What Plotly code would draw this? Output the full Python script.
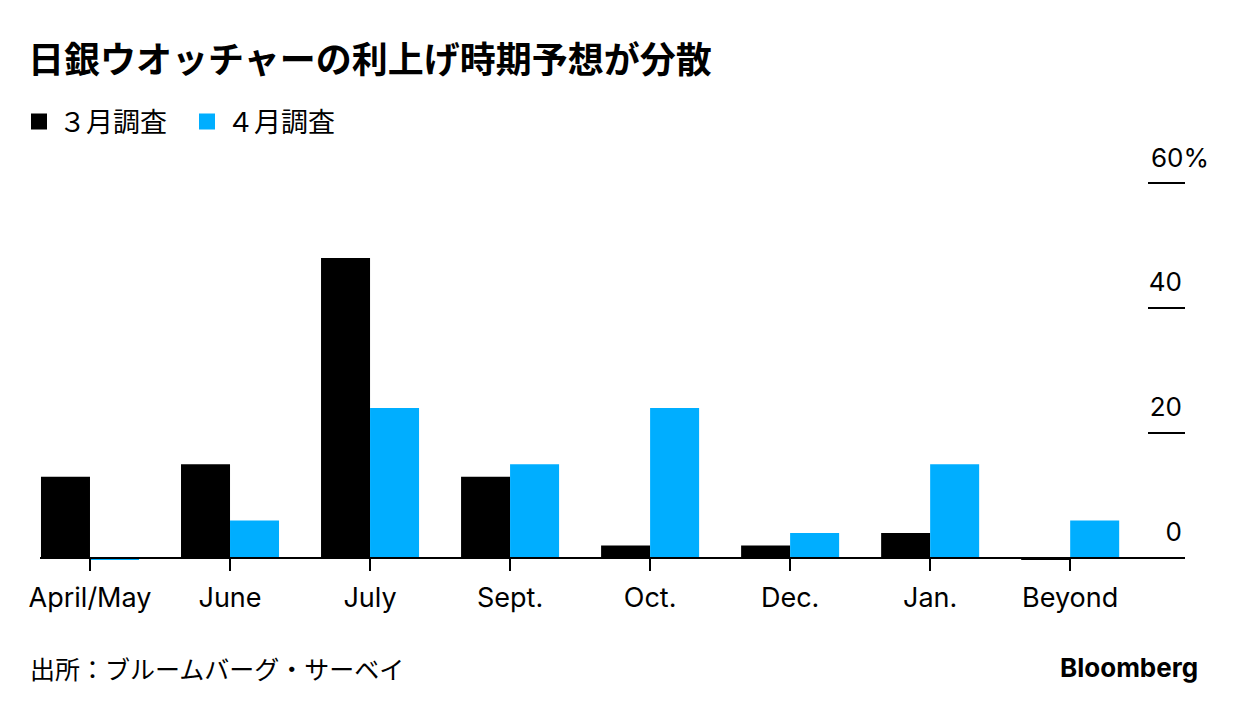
import plotly.graph_objects as go

categories = ["April/May", "June", "July", "Sept.", "Oct.", "Dec.", "Jan.", "Beyond"]
march_survey = [13, 15, 48, 13, 2, 2, 4, -0.3]
april_survey = [-0.3, 6, 24, 15, 24, 4, 15, 6]
series_names = ["３月調査", "４月調査"]
series_colors = ["#000000", "#00AEFF"]
y_ticks = [0, 20, 40, 60]
y_ticktext = ["0", "20", "40", ""]
top_label = "60%"

# page is offset by the 8px default body margin; coordinates below are figure coords
W, H = 1240, 712
L, R, T, B = 32, 63, 171, 158
pw, ph = W - L - R, H - T - B
ymin, ymax = -0.64, 60.64

LAT = "Inter, 'Liberation Sans', 'Noto Sans CJK JP', sans-serif"
JP = "'Noto Sans CJK JP', sans-serif"

fig = go.Figure()
for name, vals, col in zip(series_names, [march_survey, april_survey], series_colors):
    fig.add_trace(go.Bar(x=categories, y=vals, name=name, showlegend=False,
                         marker=dict(color=col, line=dict(width=0))))
# legend proxies (square keys)
for name, col in zip(series_names, series_colors):
    fig.add_trace(go.Scatter(x=[None], y=[None], mode="markers", name=name,
                             marker=dict(symbol="square", size=17, color=col)))

zero_pos = (0 - ymin) / (ymax - ymin)
tick_font = dict(family=LAT, size=26, color="#000000")

fig.update_layout(
    width=W, height=H,
    margin=dict(l=L, r=R, t=T, b=B, pad=0),
    paper_bgcolor="white", plot_bgcolor="white",
    barmode="group", bargap=0.3, bargroupgap=0,
    hovermode=False,
    title=dict(text="<b>日銀ウオッチャーの利上げ時期予想が分散</b>",
               font=dict(family=JP, size=36, color="#000000"),
               xref="container", x=20 / W, xanchor="left",
               yref="container", y=1 - 52 / H, yanchor="middle"),
    legend=dict(orientation="h", xref="container", yref="container",
                x=11 / W, xanchor="left", y=1 - 114 / H, yanchor="middle",
                font=dict(family=JP, size=27, color="#000000"),
                itemsizing="trace", entrywidth=123, entrywidthmode="pixels",
                traceorder="normal", bgcolor="rgba(0,0,0,0)"),
    xaxis=dict(type="category", range=[-0.357, 7.82],
               anchor="free", position=zero_pos,
               showline=True, linecolor="#000000", linewidth=1.5,
               ticks="outside", ticklen=12, tickwidth=1.5, tickcolor="#000000",
               ticklabelstandoff=4,
               tickfont=dict(family=LAT, size=27, color="#000000"),
               showgrid=False, zeroline=False, fixedrange=True),
    yaxis=dict(range=[ymin, ymax], side="right",
               tickmode="array", tickvals=y_ticks, ticktext=y_ticktext,
               ticks="inside", ticklen=37, tickwidth=2, tickcolor="#000000",
               ticklabelposition="inside top", ticklabelshift=-7,
               tickfont=tick_font,
               showgrid=False, zeroline=False, showline=False, fixedrange=True),
    annotations=[
        dict(text=top_label, xref="paper", x=(1141 - L) / pw, xanchor="left",
             yref="y", y=y_ticks[-1], yanchor="middle", yshift=26, showarrow=False,
             font=tick_font),
        dict(text="出所：ブルームバーグ・サーベイ", xref="paper", yref="paper",
             x=(20 - L) / pw, xanchor="left",
             y=(H - B - 660) / ph, yanchor="middle", showarrow=False,
             font=dict(family=JP, size=25, color="#000000")),
        dict(text="<b>Bloomberg</b>", xref="paper", yref="paper",
             x=(1192 - L) / pw, xanchor="right",
             y=(H - B - 659) / ph, yanchor="middle", showarrow=False,
             font=dict(family=LAT, size=26, color="#000000")),
    ],
)

fig.write_html("out.html")
